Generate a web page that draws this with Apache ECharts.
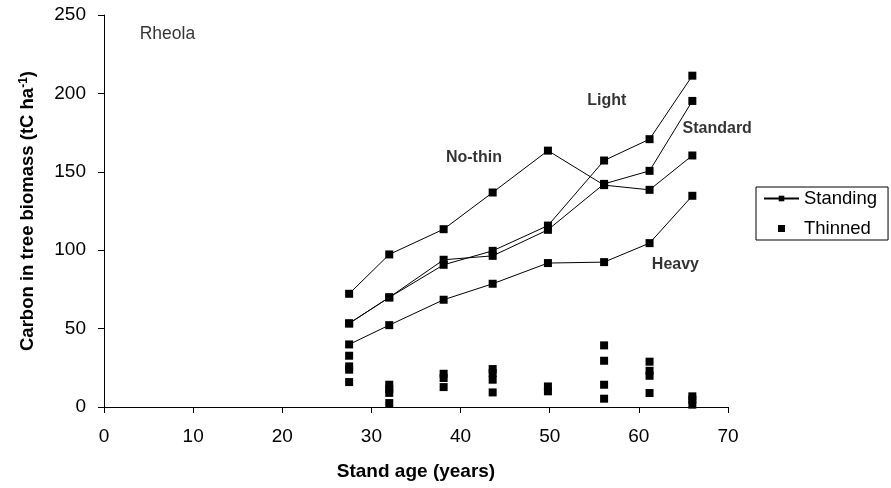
<!DOCTYPE html>
<html>
<head>
<meta charset="utf-8">
<script src="https://cdn.jsdelivr.net/npm/echarts@6/dist/echarts.min.js"></script>
<style>
  html, body { margin: 0; padding: 0; background: #fff; }
  #chart { width: 891px; height: 488px; }
</style>
</head>
<body>
<div id="chart"></div>
<script>
// stand age (years) of each measurement
const ages = [27.5, 32, 38.1, 43.6, 49.8, 56.1, 61.2, 66];

// standing carbon per thinning treatment (tC/ha)
const noThin = [72.2, 97.3, 113.4, 136.8, 163.5, 141.5, 138.5, 160.4];
const light = [53.3, 69.9, 90.7, 99.6, 115.7, 157.2, 170.8, 211.3];
const standard = [53.3, 69.9, 93.9, 96.4, 113.0, 142.3, 150.6, 195.2];
const heavy = [39.9, 52.2, 68.4, 78.6, 91.8, 92.4, 104.5, 134.7];

// thinned carbon removals
const thinnedAges = [
  27.5, 27.5, 27.5, 27.5,
  32, 32, 32, 32,
  38.1, 38.1, 38.1,
  43.6, 43.6, 43.6, 43.6,
  49.8, 49.8,
  56.1, 56.1, 56.1, 56.1,
  61.2, 61.2, 61.2, 61.2,
  66, 66, 66
];
const thinnedValues = [
  32.7, 25.9, 23.8, 15.9,
  14.2, 11.5, 9.0, 2.5,
  21.2, 18.5, 12.7,
  24.2, 21.7, 17.4, 9.3,
  13.1, 10.0,
  39.3, 29.5, 14.2, 5.3,
  28.9, 23.1, 19.9, 8.9,
  6.8, 4.7, 1.5
];

// text annotations: [label, age, carbon]
const notes = [
  ["No-thin", 41.5, 159.3],
  ["Light", 56.4, 195.2],
  ["Heavy", 64.1, 90.7]
];
const standardNote = ["Standard", 64.9, 177.8];
const siteNote = ["Rheola", 4.0, 237.6];

const xTicks = [0, 10, 20, 30, 40, 50, 60, 70];
const yTicks = [0, 50, 100, 150, 200, 250];

const font = "'Liberation Sans', Arial, sans-serif";
const chart = echarts.init(document.getElementById("chart"), null, { renderer: "canvas" });

const pair = (xs, ys) => xs.map((x, i) => [x, ys[i]]);

const lineSeries = [noThin, light, standard, heavy].map((vals) => ({
  name: "Standing",
  type: "line",
  data: pair(ages, vals),
  symbol: "rect",
  symbolSize: 8,
  lineStyle: { color: "#000", width: 1 },
  itemStyle: { color: "#000", opacity: 1 },
  animation: false,
  z: 3
}));

const noteLabel = (size, weight) => ({
  show: true,
  formatter: (p) => p.name,
  color: "#000",
  fontSize: size,
  fontWeight: weight,
  fontFamily: font
});

const option = {
  backgroundColor: "#fff",
  textStyle: { fontFamily: font },
  grid: { left: 104, right: 163, top: 15, bottom: 81 },
  legend: {
    data: [
      { name: "Standing" },
      { name: "Thinned", icon: "path://M0,0 L1,0 L1,1 L0,1 Z" }
    ],
    orient: "vertical",
    left: 756,
    top: 187,
    padding: [2, 11, 2, 7],
    itemGap: 11,
    itemWidth: 35,
    itemHeight: 7,
    borderColor: "#000",
    borderWidth: 1,
    borderRadius: 0,
    textStyle: { color: "#000", fontSize: 18.5, fontFamily: font }
  },
  xAxis: {
    type: "value",
    min: xTicks[0],
    max: xTicks[xTicks.length - 1],
    interval: 10,
    name: "Stand age (years)",
    nameLocation: "middle",
    nameGap: 55,
    nameTextStyle: { color: "#000", fontSize: 19, fontWeight: "bold", fontFamily: font },
    axisLine: { lineStyle: { color: "#000", width: 1 } },
    axisTick: { show: true, length: 6, lineStyle: { color: "#000" } },
    axisLabel: { color: "#000", fontSize: 19, margin: 20, fontFamily: font },
    splitLine: { show: false }
  },
  yAxis: {
    type: "value",
    min: yTicks[0],
    max: yTicks[yTicks.length - 1],
    interval: 50,
    name: "{b|Carbon in tree biomass (tC ha}{s|-1}{b|)}",
    nameLocation: "middle",
    nameGap: 67,
    nameTextStyle: {
      color: "#000",
      rich: {
        b: { fontSize: 18.5, fontWeight: "bold", fontFamily: font, color: "#000" },
        s: { fontSize: 12, fontWeight: "bold", fontFamily: font, color: "#000", verticalAlign: "top" }
      }
    },
    axisLine: { show: true, lineStyle: { color: "#000", width: 1 } },
    axisTick: { show: true, length: 6, lineStyle: { color: "#000" } },
    axisLabel: { color: "#000", fontSize: 19, margin: 18, fontFamily: font },
    splitLine: { show: false }
  },
  series: [
    ...lineSeries,
    {
      name: "Thinned",
      type: "scatter",
      data: pair(thinnedAges, thinnedValues),
      symbol: "rect",
      symbolSize: 8,
      itemStyle: { color: "#000", opacity: 1 },
      animation: false,
      z: 3
    },
    {
      type: "scatter",
      symbolSize: 0,
      silent: true,
      animation: false,
      data: notes.map((n) => ({ name: n[0], value: [n[1], n[2]] })),
      label: { ...noteLabel(16, "bold"), position: "inside" }
    },
    {
      type: "scatter",
      symbolSize: 0,
      silent: true,
      animation: false,
      data: [{ name: standardNote[0], value: [standardNote[1], standardNote[2]] }],
      label: { ...noteLabel(16, "bold"), position: "right", distance: 0 }
    },
    {
      type: "scatter",
      symbolSize: 0,
      silent: true,
      animation: false,
      data: [{ name: siteNote[0], value: [siteNote[1], siteNote[2]] }],
      label: { ...noteLabel(17.5, "normal"), position: "right", distance: 0 }
    }
  ]
};

chart.setOption(option);
</script>
</body>
</html>
